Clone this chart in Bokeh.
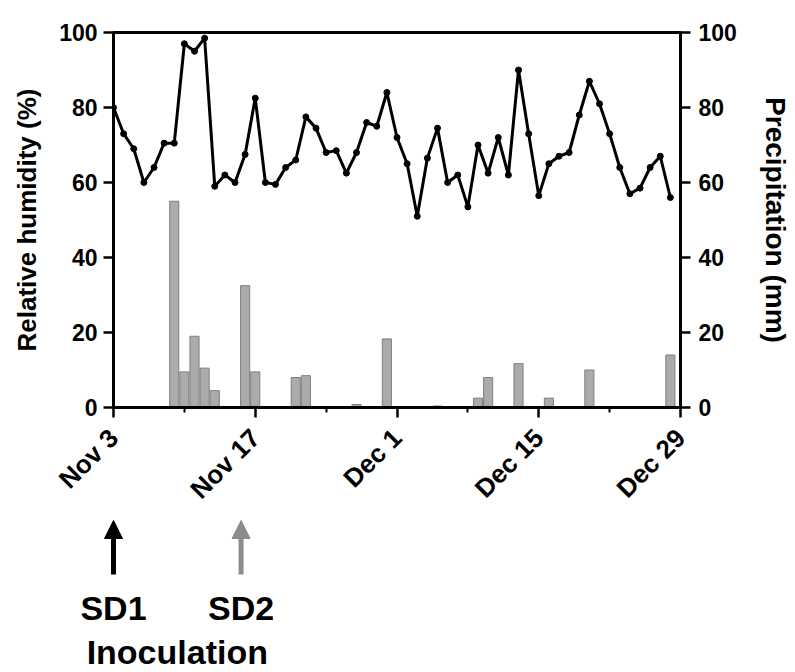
from math import pi
from bokeh.plotting import figure
from bokeh.models import Range1d, LinearAxis, FixedTicker, Arrow, NormalHead, Label, Spacer
from bokeh.layouts import column, row
from bokeh.embed import file_html
from bokeh.resources import INLINE

# ---- data (day 0 = Nov 3) ----
days = list(range(56))
humidity = [80, 73, 69, 60, 64, 70.5, 70.5, 97, 95, 98.5,
            59, 62, 60, 67.5, 82.5, 60, 59.5, 64, 66, 77.5,
            74.5, 68, 68.5, 62.5, 68, 76, 75, 84, 72, 65,
            51, 66.5, 74.5, 60, 62, 53.5, 70, 62.5, 72, 62,
            90, 73, 56.5, 65, 67, 68, 78, 87, 81, 73,
            64, 57, 58.5, 64, 67, 56]
precip = [0, 0, 0, 0, 0, 0, 55, 9.5, 19, 10.5,
          4.5, 0, 0, 32.5, 9.5, 0, 0, 0, 8, 8.5,
          0, 0, 0, 0, 0.8, 0, 0, 18.3, 0, 0,
          0, 0, 0.4, 0, 0, 0, 2.5, 8, 0, 0,
          11.7, 0, 0, 2.5, 0, 0, 0, 10, 0, 0,
          0, 0, 0, 0, 0, 14]
tick_days = [0, 14, 28, 42, 56]
tick_labels = ["Nov 3", "Nov 17", "Dec 1", "Dec 15", "Dec 29"]
minor_days = [7, 21, 35, 49]
y_ticks = [0, 20, 40, 60, 80, 100]
inoc_days = [0, 12.6]
inoc_labels = ["SD1", "SD2"]
inoc_colors = ["black", "#8c8c8c"]

FONT = "Liberation Sans"

# layout constants (pixels)
BL, BR, BT, BB = 113, 113, 32, 112
FW, FH = 567, 375
W = BL + FW + BR
H1 = BT + FH + BB
H2 = 670 - H1
SHIFT = 1  # small offset so the annotation panel keeps its own full-width frame

x_start, x_end = 0, 56
xr = Range1d(x_start, x_end)
p = figure(width=W, height=H1, x_range=xr, y_range=Range1d(0, 100),
           output_backend="svg", toolbar_location=None,
           min_border_left=BL, min_border_right=BR,
           min_border_top=BT, min_border_bottom=BB)
p.extra_y_ranges = {"precip": Range1d(0, 100)}
p.xgrid.visible = False
p.ygrid.visible = False
p.outline_line_color = "black"
p.outline_line_width = 3
p.background_fill_color = "white"

p.vbar(x=days, top=precip, width=0.9, bottom=0, fill_color="#ababab",
       line_color="#7f7f7f", line_width=1, y_range_name="precip")
p.line(days, humidity, line_color="black", line_width=3)
p.scatter(days, humidity, size=6, color="black")

def style_axis(ax):
    ax.axis_line_width = 3
    ax.axis_line_color = "black"
    ax.major_tick_line_width = 2.5
    ax.minor_tick_line_width = 2
    ax.major_tick_out = 10
    ax.major_tick_in = 0
    ax.major_label_text_font = FONT
    ax.major_label_text_font_style = "bold"
    ax.major_label_text_color = "black"
    ax.axis_label_text_font = FONT
    ax.axis_label_text_font_style = "bold"
    ax.axis_label_text_color = "black"

yl = p.yaxis[0]
style_axis(yl)
yl.ticker = FixedTicker(ticks=y_ticks)
yl.minor_tick_out = 0
yl.major_label_text_font_size = "23px"
yl.major_label_standoff = 6
yl.axis_label = "Relative humidity (%)"
yl.axis_label_text_font_size = "26px"
yl.axis_label_standoff = 14

yr = LinearAxis(y_range_name="precip")
style_axis(yr)
yr.ticker = FixedTicker(ticks=y_ticks)
yr.minor_tick_out = 0
yr.major_label_text_font_size = "23px"
yr.major_label_standoff = 8
yr.axis_label = "Precipitation (mm)"
yr.axis_label_text_font_size = "28px"
yr.axis_label_standoff = 20
p.add_layout(yr, "right")

xa = p.xaxis[0]
style_axis(xa)
xa.ticker = FixedTicker(ticks=tick_days, minor_ticks=minor_days)
xa.major_label_overrides = {d: t for d, t in zip(tick_days, tick_labels)}
xa.major_label_orientation = pi / 4
xa.minor_tick_out = 5
xa.minor_tick_in = 0
xa.major_label_text_font_size = "26px"
xa.major_label_standoff = 16

# ---- inoculation annotations (full-width frame, same day scale) ----
ppd = FW / (x_end - x_start)
W2 = W - SHIFT
x2_start = x_start - (BL - SHIFT) / ppd
p2 = figure(width=W2, height=H2,
            x_range=Range1d(x2_start, x2_start + W2 / ppd),
            y_range=Range1d(0, H2),
            output_backend="svg", toolbar_location=None,
            x_axis_type=None, y_axis_type=None,
            min_border_left=0, min_border_right=0,
            min_border_top=0, min_border_bottom=0)
p2.xgrid.visible = False
p2.ygrid.visible = False
p2.outline_line_color = None

for d, lab, c in zip(inoc_days, inoc_labels, inoc_colors):
    p2.add_layout(Arrow(end=NormalHead(size=18, fill_color=c, line_color=c),
                        x_start=d, y_start=96, x_end=d, y_end=150,
                        line_width=5, line_color=c))
    p2.add_layout(Label(x=d, y=63, text=lab, text_align="center",
                        text_baseline="middle", text_font=FONT,
                        text_font_size="34px", text_font_style="bold",
                        text_color="black"))
p2.add_layout(Label(x=sum(inoc_days) / 2, y=19, text="Inoculation",
                    text_align="center", text_baseline="middle",
                    text_font=FONT, text_font_size="34px",
                    text_font_style="bold", text_color="black"))

layout = column(p, row(Spacer(width=SHIFT, height=H2), p2, spacing=0), spacing=0)
open("out.html", "w").write(file_html(layout, INLINE))
